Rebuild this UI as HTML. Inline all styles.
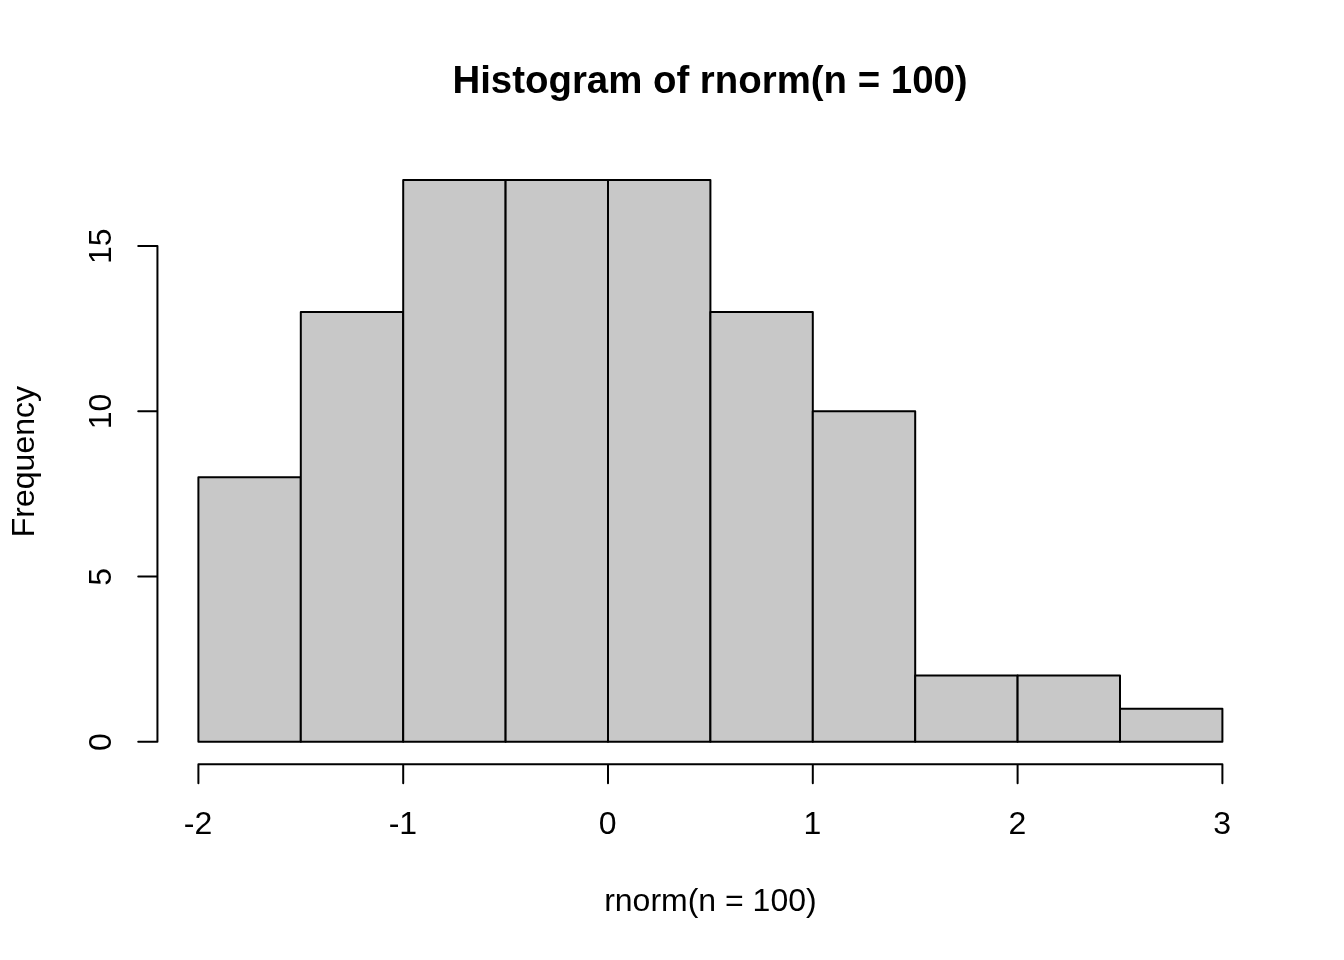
<!DOCTYPE html>
<html lang="en"><head><meta charset="utf-8"><title>Histogram of rnorm(n = 100)</title>
<style>
html,body{margin:0;padding:0;background:#fff;}
body{width:1344px;height:960px;overflow:hidden;}
svg{display:block;}
text{font-family:"Liberation Sans",Arial,Helvetica,sans-serif;font-size:32px;fill:#000;text-anchor:middle;}
.main{font-size:38.4px;font-weight:bold;}
</style></head>
<body>
<svg width="1344" height="960" viewBox="0 0 1344 960">
<rect width="1344" height="960" fill="#fff"/>
<g fill="#c8c8c8" stroke="#000" stroke-width="2" stroke-linejoin="round" stroke-linecap="round">
<rect x="198.40" y="477.32" width="102.40" height="264.37"/>
<rect x="300.80" y="312.09" width="102.40" height="429.59"/>
<rect x="403.20" y="179.91" width="102.40" height="561.78"/>
<rect x="505.60" y="179.91" width="102.40" height="561.78"/>
<rect x="608.00" y="179.91" width="102.40" height="561.78"/>
<rect x="710.40" y="312.09" width="102.40" height="429.59"/>
<rect x="812.80" y="411.23" width="102.40" height="330.46"/>
<rect x="915.20" y="675.60" width="102.40" height="66.09"/>
<rect x="1017.60" y="675.60" width="102.40" height="66.09"/>
<rect x="1120.00" y="708.64" width="102.40" height="33.05"/>
</g>
<path d="M198.40 764.16H1222.40M198.40 764.16v19.20M403.20 764.16v19.20M608.00 764.16v19.20M812.80 764.16v19.20M1017.60 764.16v19.20M1222.40 764.16v19.20M157.44 741.69V246.00M157.44 741.69h-19.20M157.44 576.46h-19.20M157.44 411.23h-19.20M157.44 246.00h-19.20" fill="none" stroke="#000" stroke-width="2" stroke-linecap="round" stroke-linejoin="round"/>
<text class="main" x="710.05" y="92.5">Histogram of rnorm(n = 100)</text>
<text x="710.40" y="911.08">rnorm(n = 100)</text>
<text transform="translate(34.06 461.60) rotate(-90)">Frequency</text>
<text x="198.10" y="834.18">-2</text>
<text x="402.90" y="834.18">-1</text>
<text x="607.70" y="834.18">0</text>
<text x="812.50" y="834.18">1</text>
<text x="1017.30" y="834.18">2</text>
<text x="1222.10" y="834.18">3</text>
<text transform="translate(111.46 741.99) rotate(-90)">0</text>
<text transform="translate(111.46 576.76) rotate(-90)">5</text>
<text transform="translate(111.46 411.53) rotate(-90)">10</text>
<text transform="translate(111.46 246.30) rotate(-90)">15</text>
</svg>
</body></html>
